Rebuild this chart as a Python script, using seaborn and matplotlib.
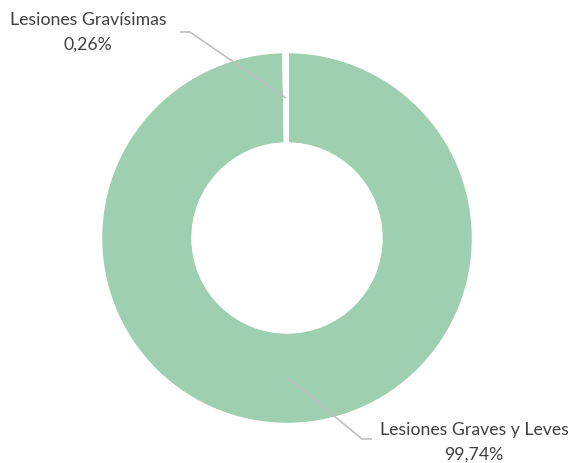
import numpy as np
import matplotlib
matplotlib.use("Agg")
import matplotlib.pyplot as plt
import seaborn as sns

categories = ["Lesiones Graves y Leves", "Lesiones Gravísimas"]
values = [99.74, 0.26]
value_labels = ["99,74%", "0,26%"]

sns.set_theme(style="white")
plt.rcParams['font.family'] = ['Lato', 'DejaVu Sans']

W, H = 572, 464
fig = plt.figure(figsize=(W / 100, H / 100), dpi=100)
ax = fig.add_axes([0, 0, 1, 1])

colors = ["#9DCFB0", "#FFFFFF"]
cx, cy = 287, H - 239
R, r_in = 186.5, 94
wedges, _ = ax.pie(values, colors=colors, startangle=90, counterclock=False,
                   center=(cx, cy), radius=R, frame=True,
                   wedgeprops=dict(width=R - r_in, edgecolor="white", linewidth=2.5))
ax.set_xlim(0, W)
ax.set_ylim(0, H)
ax.set_aspect('equal')
ax.axis('off')

line_color = "#BFBFBF"
text_color = "#404040"
label_pos = {
    0: dict(elbow=(362, 440), end=(372, 440), text=(474, 430)),
    1: dict(elbow=(190, 33), end=(180, 33), text=(88, 20)),
}
for i, w in enumerate(wedges):
    mid = np.deg2rad((w.theta1 + w.theta2) / 2)
    sx = cx + 140 * np.cos(mid)
    sy = cy + 140 * np.sin(mid)
    p = label_pos[i]
    ex, ey = p['elbow']
    tx, ty = p['end']
    ax.plot([sx, ex, tx], [sy, H - ey, H - ty], color=line_color, lw=1.2,
            solid_capstyle='butt')
    ax.text(p['text'][0], H - p['text'][1], categories[i], ha='center', va='center',
            fontsize=12.7, color=text_color)
    ax.text(p['text'][0], H - p['text'][1] - 25, value_labels[i], ha='center',
            va='center', fontsize=12.7, color=text_color)

fig.savefig("out.png", dpi=100, facecolor="white")
